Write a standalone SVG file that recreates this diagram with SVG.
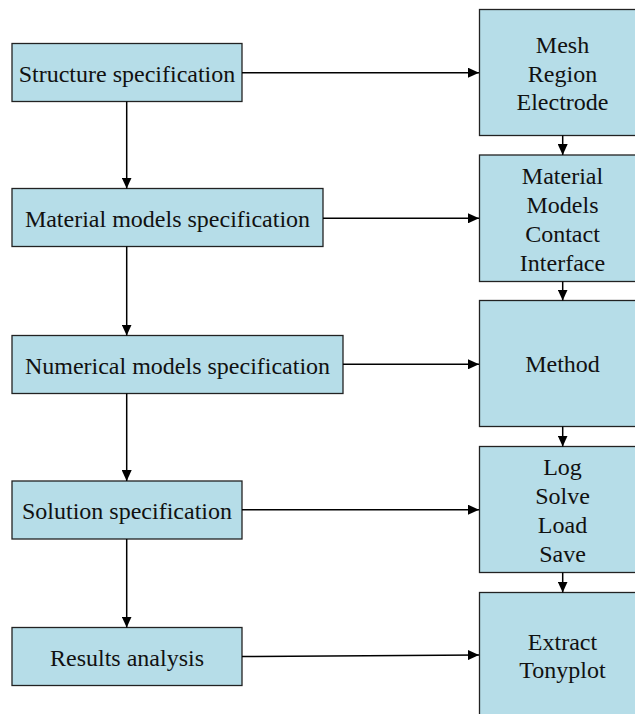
<svg xmlns="http://www.w3.org/2000/svg" width="635" height="714" viewBox="0 0 635 714">
<style>
.box{fill:#b6dde8;stroke:#222;stroke-width:1.3}
text{font-family:'Liberation Serif','Times New Roman',Times,'DejaVu Serif',serif;font-size:24px;fill:#111;text-anchor:middle}
.c{stroke:#000;stroke-width:1.5;fill:none;marker-end:url(#ah)}
</style>
<defs>
<marker id="ah" markerUnits="userSpaceOnUse" markerWidth="11" markerHeight="10" refX="11" refY="5" orient="auto">
<path d="M0,0 L11,5 L0,10 z" fill="#000"/>
</marker>
</defs>
<rect width="635" height="714" fill="#fff"/>
<g font-family="Liberation Serif, serif">
<g id="structure"><rect class="box" x="12" y="43.5" width="230" height="58"/><text x="127" y="82">Structure specification</text></g>
<g id="material"><rect class="box" x="12" y="188.5" width="311" height="58"/><text x="167.5" y="227">Material models specification</text></g>
<g id="numerical"><rect class="box" x="12" y="335.5" width="331" height="58"/><text x="177.5" y="373.5">Numerical models specification</text></g>
<g id="solution"><rect class="box" x="12" y="481" width="230" height="58"/><text x="127" y="519">Solution specification</text></g>
<g id="results"><rect class="box" x="12" y="627.5" width="230" height="58"/><text x="127" y="666">Results analysis</text></g>
<g id="mesh"><rect class="box" x="479.5" y="9.5" width="170" height="126"/><text x="562.5" y="53.3">Mesh</text><text x="562.5" y="81.7">Region</text><text x="562.5" y="110">Electrode</text></g>
<g id="models"><rect class="box" x="479.5" y="155" width="170" height="126.5"/><text x="562.5" y="184.3">Material</text><text x="562.5" y="212.7">Models</text><text x="562.5" y="241.7">Contact</text><text x="562.5" y="270.7">Interface</text></g>
<g id="method"><rect class="box" x="479.5" y="300.5" width="170" height="126"/><text x="562.5" y="372.3">Method</text></g>
<g id="solve"><rect class="box" x="479.5" y="446.5" width="170" height="126"/><text x="562.5" y="475">Log</text><text x="562.5" y="504">Solve</text><text x="562.5" y="532.7">Load</text><text x="562.5" y="561.7">Save</text></g>
<g id="extract"><rect class="box" x="479.5" y="592.5" width="170" height="135"/><text x="562.5" y="650">Extract</text><text x="562.5" y="678">Tonyplot</text></g>
</g>
<g id="connectors">
<path class="c" d="M242,72.7 H479"/>
<path class="c" d="M323,218.3 H479"/>
<path class="c" d="M343,364.3 H479"/>
<path class="c" d="M242,509.7 H479"/>
<path class="c" d="M242,656.5 L479,655"/>
<path class="c" d="M126.7,101.5 V188.5"/>
<path class="c" d="M126.7,246.5 V335.5"/>
<path class="c" d="M126.7,393.5 V481"/>
<path class="c" d="M126.7,539 V627.5"/>
<path class="c" d="M562.7,135.5 V155"/>
<path class="c" d="M562.7,281.5 V300.5"/>
<path class="c" d="M562.7,426.5 V446.5"/>
<path class="c" d="M562.7,572.5 V592.5"/>
</g>
</svg>
